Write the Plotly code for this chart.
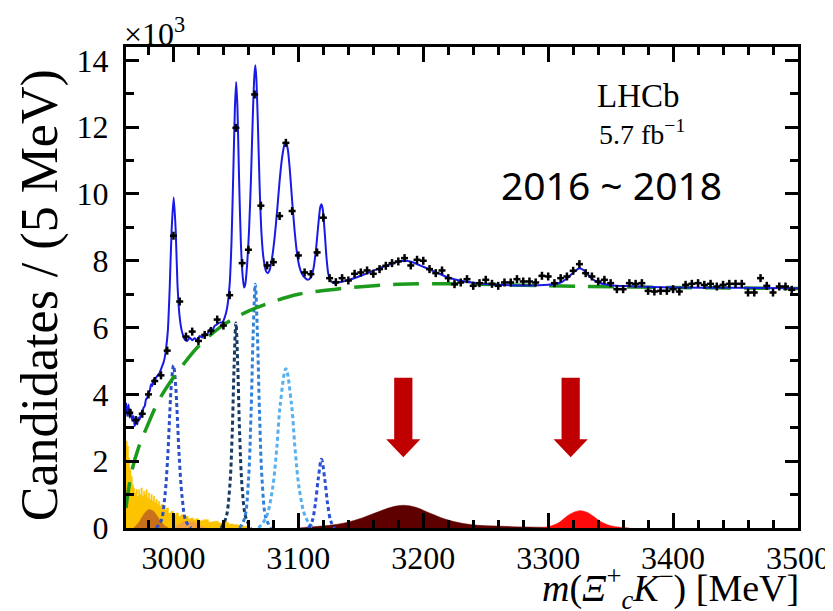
import plotly.graph_objects as go

# ---------------- data (values in units of 10^3 candidates / 5 MeV) ----------------
mass_bins = [2965, 2970, 2975, 2980, 2985, 2990, 2995, 3000, 3005, 3010, 3015, 3020, 3025, 3030,
             3035, 3040, 3045, 3050, 3055, 3060, 3065, 3070, 3075, 3080, 3085, 3090, 3095, 3100,
             3105, 3110, 3115, 3120, 3125, 3130, 3135, 3140, 3145, 3150, 3155, 3160, 3165, 3170,
             3175, 3180, 3185, 3190, 3195, 3200, 3205, 3210, 3215, 3220, 3225, 3230, 3235, 3240,
             3245, 3250, 3255, 3260, 3265, 3270, 3275, 3280, 3285, 3290, 3295, 3300, 3305, 3310,
             3315, 3320, 3325, 3330, 3335, 3340, 3345, 3350, 3355, 3360, 3365, 3370, 3375, 3380,
             3385, 3390, 3395, 3400, 3405, 3410, 3415, 3420, 3425, 3430, 3435, 3440, 3445, 3450,
             3455, 3460, 3465, 3470, 3475, 3480, 3485, 3490, 3495]
candidates = [3.45, 3.23, 3.42, 4.00, 4.40, 4.57, 5.31, 8.75, 6.78, 5.73, 5.88, 5.60, 5.78, 5.90,
              6.24, 6.06, 6.97, 11.98, 7.93, 8.33, 12.98, 9.65, 7.86, 7.96, 9.34, 11.53, 9.49, 8.16,
              7.65, 7.60, 8.25, 9.29, 7.48, 7.36, 7.48, 7.41, 7.61, 7.65, 7.71, 7.61, 7.75, 7.85,
              7.93, 7.98, 8.08, 7.86, 8.03, 8.00, 7.75, 7.63, 7.71, 7.48, 7.30, 7.35, 7.45, 7.25,
              7.33, 7.43, 7.31, 7.25, 7.35, 7.35, 7.45, 7.38, 7.38, 7.35, 7.55, 7.53, 7.33, 7.48,
              7.53, 7.70, 7.90, 7.63, 7.53, 7.38, 7.43, 7.33, 7.15, 7.15, 7.33, 7.31, 7.33, 7.10,
              7.08, 7.10, 7.10, 7.15, 7.08, 7.28, 7.31, 7.33, 7.28, 7.31, 7.23, 7.28, 7.31, 7.31,
              7.31, 7.05, 7.05, 7.48, 7.25, 7.05, 7.23, 7.23, 7.13]
cand_err = [0.12] * len(candidates)
bin_half_width = 2.8

# total fit curve
fit_m = [2962, 2963, 2964, 2965, 2966, 2967, 2968, 2969, 2970, 2971, 2972, 2973, 2974, 2975, 2976,
         2977, 2978, 2979, 2980, 2981, 2982, 2983, 2984, 2985, 2986, 2987, 2988, 2989, 2990, 2991,
         2992, 2993, 2994, 2995.5, 2997, 2998.5, 3000.2, 3001.8, 3003.2, 3005, 3007, 3009, 3011,
         3013, 3015, 3017, 3019, 3021, 3023, 3025, 3027, 3029, 3031, 3033, 3035, 3037, 3039, 3041,
         3043, 3045, 3046.5, 3048, 3049.2, 3050.2, 3051.2, 3052.5, 3054, 3055.5, 3056.5, 3057.5,
         3059, 3060.5, 3062, 3063.5, 3064.7, 3065.5, 3066.3, 3067.5, 3069, 3070.5, 3072, 3074,
         3075.5, 3077, 3079, 3081, 3083, 3085, 3087, 3089, 3090, 3091.5, 3093, 3095, 3097, 3099,
         3101, 3103, 3105, 3107.5, 3110, 3112, 3114, 3116, 3117.5, 3118.5, 3119.5, 3121, 3122.5,
         3124, 3126, 3128, 3132, 3140, 3150, 3160, 3170, 3180, 3186, 3192, 3200, 3210, 3220, 3230,
         3245, 3260, 3280, 3300, 3310, 3316, 3321, 3325, 3329, 3334, 3340, 3350, 3365, 3400, 3450,
         3500]
fit_y = [3.75, 3.35, 3.70, 3.30, 3.55, 3.20, 3.35, 3.05, 3.20, 3.10, 3.30, 3.25, 3.45, 3.40, 3.60,
         3.65, 3.85, 3.90, 4.05, 4.10, 4.30, 4.25, 4.45, 4.40, 4.50, 4.55, 4.60, 4.65, 4.75, 4.85,
         4.95, 5.10, 5.35, 5.90, 7.20, 8.90, 9.90, 8.90, 7.30, 6.30, 5.85, 5.65, 5.60,
         5.70, 5.62, 5.68, 5.62, 5.75, 5.70, 5.82, 5.80, 5.95, 5.90, 6.05, 6.10, 6.15, 6.15, 6.30,
         6.60, 7.30, 8.60, 10.80, 12.60, 13.35, 12.60, 10.50, 8.50, 7.50, 7.20, 7.30,
         7.90, 8.90, 10.40, 12.30, 13.50, 13.85, 13.50, 12.20, 10.20, 8.80, 8.10, 7.70,
         7.63, 7.72, 8.10, 8.70, 9.50, 10.40, 11.10, 11.50, 11.56, 11.35, 10.80, 9.80, 8.90, 8.20,
         7.80, 7.60, 7.50, 7.43, 7.50, 7.75, 8.30, 9.10, 9.60, 9.69, 9.55, 8.90, 8.10,
         7.60, 7.40, 7.33, 7.35, 7.42, 7.55, 7.70, 7.85, 7.98, 8.00, 7.95, 7.82, 7.66, 7.50, 7.40,
         7.32, 7.28, 7.26, 7.28, 7.35, 7.50, 7.68, 7.78, 7.70, 7.50, 7.35, 7.27, 7.24, 7.20, 7.19,
         7.18]

# combinatorial background (green dashed)
bkg_m = [2962, 2963, 2967, 2972, 2979, 2988, 2998, 3010, 3020, 3037, 3057, 3080, 3100, 3130,
         3180, 3240, 3300, 3400, 3500]
bkg_y = [0.60, 0.90, 1.76, 2.40, 3.05, 3.80, 4.40, 5.00, 5.44, 6.00, 6.44, 6.78, 7.00, 7.15,
         7.30, 7.30, 7.25, 7.20, 7.17]

# known Omega_c states (dotted components)
om3000_m = [2986, 2990, 2993, 2995.5, 2997, 2998.5, 3000, 3001.5, 3003, 3004.5, 3007, 3010, 3014]
om3000_y = [0.0, 0.2, 0.9, 2.2, 3.4, 4.4, 4.87, 4.4, 3.4, 2.2, 0.9, 0.2, 0.0]
om3050_m = [3038, 3042, 3045, 3047, 3048.5, 3050, 3051.5, 3053, 3055, 3058, 3062]
om3050_y = [0.0, 0.3, 1.2, 2.8, 4.8, 6.14, 4.8, 2.8, 1.2, 0.3, 0.0]
om3065_m = [3053, 3057, 3060, 3062, 3063.8, 3065.5, 3067.2, 3069, 3071, 3074, 3078]
om3065_y = [0.0, 0.3, 1.4, 3.3, 5.8, 7.3, 5.8, 3.3, 1.4, 0.3, 0.0]
om3090_m = [3068, 3074, 3079, 3082.5, 3085.5, 3090, 3094.5, 3097.5, 3101, 3106, 3112]
om3090_y = [0.0, 0.3, 1.1, 2.3, 3.7, 4.77, 3.7, 2.3, 1.1, 0.3, 0.0]
om3119_m = [3108, 3111, 3113.5, 3116, 3118.5, 3121, 3123.5, 3126, 3129]
om3119_y = [0.0, 0.2, 0.7, 1.5, 2.06, 1.5, 0.7, 0.2, 0.0]

# feed-down / partially reconstructed contributions near threshold
feed_m = [2962, 2963, 2964, 2965, 2966, 2967, 2968, 2969, 2970, 2971, 2972, 2973, 2974, 2975,
          2976, 2977, 2978, 2979, 2980, 2981, 2982, 2983, 2984, 2985, 2986, 2987, 2988, 2989,
          2990, 2992, 2994, 2996, 2998, 3000, 3002, 3004, 3006, 3008, 3010, 3012, 3014, 3016,
          3018, 3020, 3024, 3028, 3032, 3036, 3040, 3044, 3048, 3052, 3056, 3060]
feed_y = [2.60, 2.45, 2.10, 1.75, 1.55, 1.30, 1.20, 1.05, 1.15, 0.95, 1.15, 1.00, 1.20, 0.95,
          1.10, 1.00, 1.15, 0.90, 1.05, 0.85, 1.00, 0.80, 0.95, 0.75, 0.85, 0.70, 0.80, 0.65,
          0.70, 0.55, 0.60, 0.45, 0.50, 0.40, 0.45, 0.35, 0.40, 0.30, 0.35, 0.28, 0.30, 0.25,
          0.28, 0.22, 0.25, 0.18, 0.20, 0.15, 0.17, 0.12, 0.10, 0.08, 0.05, 0.0]
orange_m = [2968, 2972, 2976, 2980, 2984, 2988, 2992, 2996]
orange_y = [0.0, 0.15, 0.40, 0.55, 0.50, 0.30, 0.10, 0.0]
lorange_m = [3000, 3004, 3010, 3016, 3022, 3026]
lorange_y = [0.0, 0.10, 0.20, 0.18, 0.05, 0.0]

# new states
om3185_m = [3100, 3112, 3125, 3138, 3151, 3165, 3175, 3184, 3194, 3205, 3218, 3231, 3244, 3258,
            3271, 3284, 3300, 3320]
om3185_y = [0.0, 0.04, 0.08, 0.16, 0.30, 0.50, 0.63, 0.68, 0.62, 0.45, 0.26, 0.14, 0.08, 0.06,
            0.04, 0.03, 0.02, 0.0]
om3327_m = [3295, 3300, 3308, 3316, 3321, 3326, 3331, 3335, 3343, 3350, 3358, 3365]
om3327_y = [0.0, 0.04, 0.15, 0.38, 0.48, 0.52, 0.47, 0.38, 0.17, 0.07, 0.02, 0.0]

arrow_masses = [3184, 3318]

x_ticks = [3000, 3100, 3200, 3300, 3400, 3500]
y_ticks = [0, 2, 4, 6, 8, 10, 12, 14]

# ---------------- figure ----------------
fig = go.Figure()

def filled(xs, ys, color, shape="spline"):
    fig.add_trace(go.Scatter(x=xs, y=ys, mode="lines", fill="tozeroy", fillcolor=color,
                             line=dict(color=color, width=0.5, shape=shape), hoverinfo="skip"))

filled(feed_m, feed_y, "#fcc300", shape="hv")
filled(orange_m, orange_y, "#c8701a")
filled(lorange_m, lorange_y, "#f2a040")
filled(om3185_m, om3185_y, "#5e0000")
filled(om3327_m, om3327_y, "#ff0a0a")

def dotted(xs, ys, color):
    fig.add_trace(go.Scatter(x=xs, y=ys, mode="lines",
                             line=dict(color=color, width=3, dash="4px,3px", shape="spline"),
                             hoverinfo="skip"))

dotted(om3000_m, om3000_y, "#2a4fc8")
dotted(om3050_m, om3050_y, "#173a60")
dotted(om3065_m, om3065_y, "#2f80d8")
dotted(om3090_m, om3090_y, "#56b0f0")
dotted(om3119_m, om3119_y, "#2a50d8")

fig.add_trace(go.Scatter(x=bkg_m, y=bkg_y, mode="lines",
                         line=dict(color="#1c9a1c", width=3.5, dash="26px,13px", shape="spline"),
                         hoverinfo="skip"))
fig.add_trace(go.Scatter(x=fit_m, y=fit_y, mode="lines",
                         line=dict(color="#1a1ae6", width=2, shape="spline", smoothing=0.6),
                         hoverinfo="skip"))
fig.add_trace(go.Scatter(x=mass_bins, y=candidates, mode="markers",
                         marker=dict(color="black", size=3),
                         error_y=dict(type="data", array=cand_err, color="black", thickness=2.5, width=0),
                         error_x=dict(type="constant", value=bin_half_width, color="black",
                                      thickness=2.5, width=0),
                         hoverinfo="skip"))

# arrows
shaft_hw, head_hw = 7.3, 13.7
y_top, y_head, y_tip = 4.5, 2.66, 2.12
for xc in arrow_masses:
    path = (f"M {xc-shaft_hw},{y_top} L {xc+shaft_hw},{y_top} L {xc+shaft_hw},{y_head} "
            f"L {xc+head_hw},{y_head} L {xc},{y_tip} L {xc-head_hw},{y_head} "
            f"L {xc-shaft_hw},{y_head} Z")
    fig.add_shape(type="path", path=path, xref="x", yref="y", fillcolor="#c00000",
                  line=dict(color="#c00000", width=0), layer="above")

serif = "Liberation Serif"
axis_common = dict(showline=True, linecolor="black", linewidth=3, mirror="allticks",
                   ticks="inside", tickcolor="black", tickwidth=2.5, showgrid=False,
                   zeroline=False, automargin=False,
                   tickfont=dict(family=serif, size=32, color="black"))

# page has an 8 px body margin, so the plot frame is offset accordingly
fig.update_layout(
    width=833, height=611,
    margin=dict(l=118, r=43, t=39, b=91),
    paper_bgcolor="white", plot_bgcolor="white",
    showlegend=False,
    xaxis=dict(range=[2962, 3500], tickvals=x_ticks, ticklen=15,
               minor=dict(dtick=20, tick0=3000, ticklen=8, tickwidth=2.5, tickcolor="black",
                          ticks="inside"),
               **axis_common),
    yaxis=dict(range=[0, 14.4], tickvals=y_ticks, ticklen=13, ticklabelstandoff=8,
               minor=dict(dtick=1, ticklen=8, tickwidth=2.5, tickcolor="black", ticks="inside"),
               **axis_common),
)

ann = []
ann.append(dict(text="×10<sup>3</sup>", x=-0.006, y=0.985, xref="paper", yref="paper",
                xanchor="left", yanchor="bottom", showarrow=False,
                font=dict(family=serif, size=32, color="black")))
ann.append(dict(text="Candidates / (5 MeV)", x=-0.128, y=0.484, xref="paper", yref="paper",
                textangle=-90, xanchor="center", yanchor="middle", showarrow=False,
                font=dict(family=serif, size=52, color="black")))
ann.append(dict(text="<i>m</i>(<i>Ξ</i><sup>+</sup><sub><i>c</i></sub><i>K</i><sup>−</sup>) [MeV]",
                x=1.004, y=-0.125, xref="paper", yref="paper", xanchor="right",
                yanchor="middle", showarrow=False,
                font=dict(family=serif, size=38, color="black")))
ann.append(dict(text="LHCb", x=0.762, y=0.899, xref="paper", yref="paper", xanchor="center",
                yanchor="middle", showarrow=False, font=dict(family=serif, size=33, color="black")))
ann.append(dict(text="5.7 fb<sup>−1</sup>", x=0.768, y=0.822, xref="paper", yref="paper",
                xanchor="center", yanchor="middle", showarrow=False,
                font=dict(family=serif, size=28, color="black")))
ann.append(dict(text="2016 ~ 2018", x=0.723, y=0.715, xref="paper", yref="paper",
                xanchor="center", yanchor="middle", showarrow=False,
                font=dict(family="Noto Sans, DejaVu Sans, sans-serif", size=39, color="black")))
fig.update_layout(annotations=ann)

fig.write_html("out.html")
